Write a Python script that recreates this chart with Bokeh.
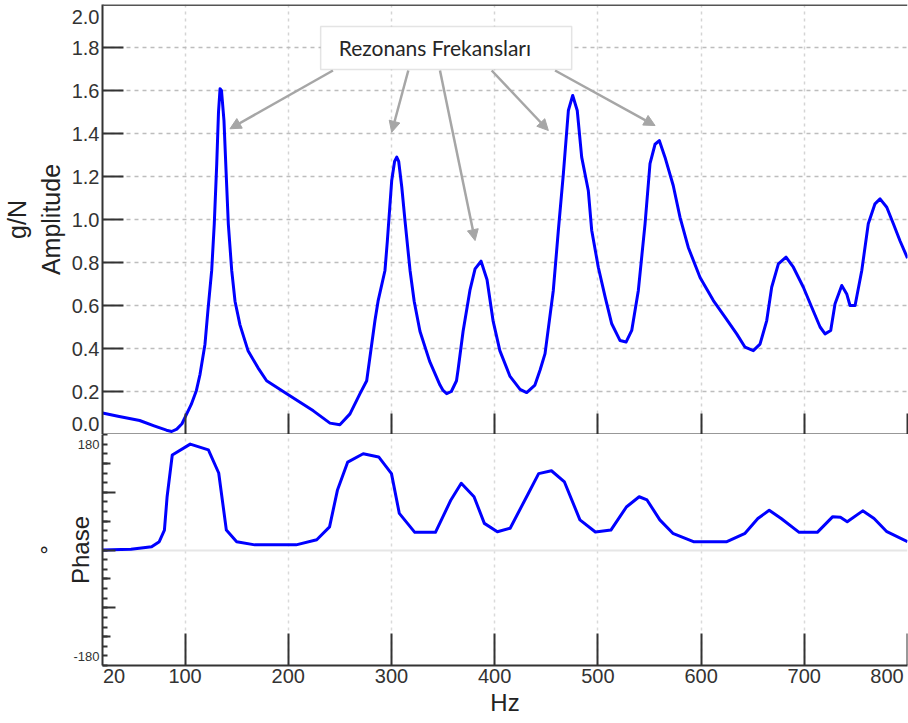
from bokeh.plotting import figure
from bokeh.layouts import column
from bokeh.models import (FixedTicker, Label, Arrow, NormalHead, BoxAnnotation, Span,
                          Range1d, ColumnDataSource, LinearAxis)
from bokeh.embed import file_html
from bokeh.resources import INLINE

# ---------------- data ----------------
FREQ_AMP = [20, 35, 56, 70, 82, 87, 92, 97, 101.6, 106, 111, 114.5, 119.3, 122.2, 125.8, 128.3,
            130.7, 132.4, 133.9, 135.3, 137.7, 139.7, 141.9, 145.2, 148.4, 153.2, 161, 170.7, 179,
            198.5, 224.3, 240.4, 250, 259.8, 269.5, 276, 284, 287, 293.7, 296, 300.2, 303, 305.1,
            307, 310, 313.1, 318, 322, 327.6, 337, 347, 350, 353.5, 358, 363, 364.5, 369.4, 376,
            381, 386.8, 392.6, 398.4, 405, 414.9, 424.6, 431, 439, 444, 448.8, 456.8, 461.7, 466.5,
            471.4, 475.6, 480, 484.3, 490.7, 494, 500.4, 507, 513.4, 521.5, 527.3, 532.8, 539.2,
            545.7, 550.5, 555.4, 559.5, 565, 573, 579.6, 587.6, 599, 611.9, 623.2, 634.5, 642.6,
            650.6, 657.1, 663.6, 668.4, 674.9, 682.3, 689.4, 699.1, 707.2, 715.3, 720.1, 725.6,
            729.8, 736.3, 741.1, 744.3, 749.2, 755.7, 762, 768.5, 773.4, 779.9, 786.3, 792.8, 800]
AMPLITUDE = [0.10, 0.085, 0.065, 0.04, 0.02, 0.014, 0.025, 0.05, 0.096, 0.14, 0.205, 0.28, 0.42,
             0.58, 0.763, 0.98, 1.26, 1.5, 1.608, 1.6, 1.46, 1.228, 0.98, 0.763, 0.62, 0.51, 0.39,
             0.31, 0.25, 0.19, 0.11, 0.053, 0.045, 0.096, 0.19, 0.25, 0.53, 0.62, 0.763, 0.90,
             1.18, 1.27, 1.29, 1.27, 1.15, 0.995, 0.763, 0.62, 0.48, 0.34, 0.23, 0.205, 0.19,
             0.2, 0.25, 0.30, 0.48, 0.67, 0.77, 0.806, 0.72, 0.53, 0.39, 0.27, 0.21, 0.195, 0.23,
             0.30, 0.376, 0.67, 0.95, 1.21, 1.507, 1.577, 1.507, 1.29, 1.135, 0.95, 0.778, 0.64,
             0.515, 0.437, 0.43, 0.484, 0.67, 0.98, 1.26, 1.35, 1.367, 1.29, 1.158, 1.01, 0.87,
             0.73, 0.623, 0.546, 0.468, 0.406, 0.39, 0.42, 0.53, 0.685, 0.794, 0.825, 0.778,
             0.685, 0.592, 0.5, 0.468, 0.484, 0.608, 0.693, 0.654, 0.6, 0.6, 0.763, 0.98, 1.073,
             1.096, 1.057, 0.98, 0.90, 0.82]

FREQ_PHASE = [20, 47.6, 67.6, 75, 80, 82.6, 87.6, 105, 122.6, 132.6, 140, 150, 167.6, 207.6,
              227.6, 240, 247.6, 257.6, 272.6, 287.6, 300, 307.6, 322.6, 342.6, 357.6, 367.6,
              380, 390, 402.6, 415, 432.6, 442.6, 455, 467.6, 482.6, 497.6, 512.6, 527.6, 540,
              547.6, 560, 572.6, 592.6, 625, 642.6, 655, 666, 677.6, 695, 712.6, 727.6, 735,
              741.6, 756.6, 767.6, 780, 800]
PHASE = [0, 1, 5, 13, 31, 83, 148, 165, 156, 120, 31, 13, 8, 8, 16, 36, 93, 137, 150, 145, 119,
         57, 27.5, 27.5, 78, 104, 83, 41.5, 28.5, 34, 88, 119, 123.5, 106, 47, 28, 31, 67, 83,
         78, 47, 26, 13, 13, 26, 49, 62, 49, 27.5, 27.5, 52, 51, 44, 61, 49, 28.5, 13]

X_RANGE = (20, 800)
AMP_RANGE = (0.0, 2.0)
PHASE_RANGE = (-180, 180)

X_TICKS = [100, 200, 300, 400, 500, 600, 700, 800]
X_LABEL_VALUES = [20, 100, 200, 300, 400, 500, 600, 700, 800]
X_TICK_LABELS = ["20", "100", "200", "300", "400", "500", "600", "700", "800"]
AMP_TICKS = [0.2, 0.4, 0.6, 0.8, 1.0, 1.2, 1.4, 1.6, 1.8]
AMP_LABEL_VALUES = [0.0, 0.2, 0.4, 0.6, 0.8, 1.0, 1.2, 1.4, 1.6, 1.8, 2.0]
AMP_TICK_LABELS = ["0.0", "0.2", "0.4", "0.6", "0.8", "1.0", "1.2", "1.4", "1.6", "1.8", "2.0"]
PHASE_LABEL_VALUES = [-180, 180]
PHASE_TICK_LABELS = ["-180", "180"]
PHASE_MAJOR = [-90, 0, 90]
PHASE_MEDIUM = [-135, -45, 45, 135]
PHASE_MINOR = list(range(-180, 181, 15))

ANNOT_TEXT = "Rezonans Frekansları"
ANNOT_BOX = dict(left=231.4, right=474.6, bottom=1.698, top=1.898)
ARROW_X0 = [243.3, 316.3, 347.0, 397.1, 458.5]
ARROW_Y0 = [1.693, 1.693, 1.693, 1.693, 1.693]
ARROW_X1 = [143.5, 300.2, 381.0, 452.0, 555.4]
ARROW_Y1 = [1.422, 1.406, 0.902, 1.414, 1.437]

# ---------------- styles / geometry ----------------
FONT = "Liberation Sans"
TXT = "#333333"
AX = "#333333"
BLUE = "#0000ff"
GRAY = "#a6a6a6"
FRAME_W, TOP_H, BOT_H = 805, 430, 231

px_x = FRAME_W / (X_RANGE[1] - X_RANGE[0])
px_amp = TOP_H / (AMP_RANGE[1] - AMP_RANGE[0])
px_ph = BOT_H / (PHASE_RANGE[1] - PHASE_RANGE[0])


def nudge(values, lo, hi, lo_px, hi_px, scale):
    """Edge tick labels are drawn pulled inside the frame by a few pixels."""
    out = []
    for v in values:
        if v == lo:
            out.append(v + lo_px / scale)
        elif v == hi:
            out.append(v - hi_px / scale)
        else:
            out.append(v)
    return out


x_range = Range1d(*X_RANGE)

# ---------------- amplitude ----------------
top = figure(frame_width=FRAME_W, frame_height=TOP_H, x_range=x_range, y_range=Range1d(*AMP_RANGE),
             output_backend="svg", toolbar_location=None, min_border_left=102,
             min_border_right=1, min_border_top=4, min_border_bottom=0,
             outline_line_color=None, background_fill_color="white")

top.xgrid.ticker = FixedTicker(ticks=X_TICKS)
top.xgrid.grid_line_color = "#d4d4d4"
top.xgrid.grid_line_dash = "3 4"
top.xgrid.grid_line_width = 1.5
top.ygrid.ticker = FixedTicker(ticks=AMP_TICKS)
top.ygrid.grid_line_color = "#bdbdbd"
top.ygrid.grid_line_dash = "4 4"
top.ygrid.grid_line_width = 1.5

top.line(FREQ_AMP, AMPLITUDE, line_color=BLUE, line_width=3, line_join="round")

top.xaxis.ticker = FixedTicker(ticks=X_TICKS, minor_ticks=[])
top.xaxis.major_tick_in = 21
top.xaxis.major_tick_out = 0
top.xaxis.major_tick_line_width = 2
top.xaxis.major_tick_line_color = AX
top.xaxis.axis_line_width = 2
top.xaxis.axis_line_color = AX
top.xaxis.major_label_text_font_size = "0px"
top.xaxis.major_label_standoff = 0
top.xaxis.major_label_overrides = {t: "" for t in X_TICKS}

amp_label_pos = nudge(AMP_LABEL_VALUES, AMP_RANGE[0], AMP_RANGE[1], 11, 12, px_amp)
top.yaxis.ticker = FixedTicker(ticks=amp_label_pos, minor_ticks=[])
top.yaxis.major_label_overrides = dict(zip(amp_label_pos, AMP_TICK_LABELS))
top.yaxis.major_tick_line_color = None
top.yaxis.major_tick_in = 0
top.yaxis.major_tick_out = 0
top.yaxis.axis_line_width = 2
top.yaxis.axis_line_color = AX
top.yaxis.major_label_text_font = FONT
top.yaxis.major_label_text_font_size = "20px"
top.yaxis.major_label_text_color = TXT
top.yaxis.major_label_standoff = 3
top.yaxis.axis_label = "g/N\nAmplitude"
top.yaxis.axis_label_text_font = FONT
top.yaxis.axis_label_text_font_size = "25px"
top.yaxis.axis_label_text_font_style = "normal"
top.yaxis.axis_label_text_color = "#222222"
top.yaxis.axis_label_standoff = 4

top.add_layout(LinearAxis(ticker=FixedTicker(ticks=AMP_TICKS, minor_ticks=[]),
                          fixed_location=X_RANGE[0], axis_line_color=None,
                          major_tick_in=21, major_tick_out=0, major_tick_line_width=2,
                          major_tick_line_color=AX, major_label_text_font_size="0px",
                          major_label_standoff=0,
                          major_label_overrides={t: "" for t in AMP_TICKS}), "left")

top.add_layout(Span(location=AMP_RANGE[1], dimension="width", line_color="#555555", line_width=3))

# annotation
top.add_layout(Arrow(end=NormalHead(size=11, fill_color=GRAY, line_color=GRAY),
                     source=ColumnDataSource(dict(x0=ARROW_X0, y0=ARROW_Y0, x1=ARROW_X1, y1=ARROW_Y1)),
                     x_start="x0", y_start="y0", x_end="x1", y_end="y1",
                     line_color=GRAY, line_width=2.5))
top.add_layout(BoxAnnotation(fill_color="white", fill_alpha=1.0, line_color=GRAY, line_width=1.5,
                             **ANNOT_BOX))
top.add_layout(Label(x=ANNOT_BOX["left"], y=(ANNOT_BOX["top"] + ANNOT_BOX["bottom"]) / 2,
                     x_offset=18, text=ANNOT_TEXT,
                     text_align="left", text_baseline="middle", text_font="Lato",
                     text_font_size="21px", text_color="#262626"))

# ---------------- phase ----------------
bot = figure(frame_width=FRAME_W, frame_height=BOT_H, x_range=x_range, y_range=Range1d(*PHASE_RANGE),
             output_backend="svg", toolbar_location=None, min_border_left=102,
             min_border_right=1, min_border_top=0, min_border_bottom=58,
             outline_line_color=None, background_fill_color="white")

bot.xgrid.ticker = FixedTicker(ticks=X_TICKS)
bot.xgrid.grid_line_color = "#dadada"
bot.xgrid.grid_line_dash = "3 4"
bot.xgrid.grid_line_width = 1.5
bot.ygrid.ticker = FixedTicker(ticks=[0])
bot.ygrid.grid_line_color = "#e6e6e6"
bot.ygrid.grid_line_width = 2

bot.line(FREQ_PHASE, PHASE, line_color=BLUE, line_width=3, line_join="round")

x_label_pos = nudge(X_LABEL_VALUES, X_RANGE[0], X_RANGE[1], 11.5, 20.5, px_x)
bot.xaxis.ticker = FixedTicker(ticks=x_label_pos, minor_ticks=[])
bot.xaxis.major_label_overrides = dict(zip(x_label_pos, X_TICK_LABELS))
bot.xaxis.major_tick_line_color = None
bot.xaxis.major_tick_in = 0
bot.xaxis.major_tick_out = 0
bot.xaxis.axis_line_width = 2
bot.xaxis.axis_line_color = AX
bot.xaxis.major_label_text_font = FONT
bot.xaxis.major_label_text_font_size = "20px"
bot.xaxis.major_label_text_color = TXT
bot.xaxis.major_label_standoff = 3
bot.xaxis.axis_label = "Hz"
bot.xaxis.axis_label_text_font = FONT
bot.xaxis.axis_label_text_font_size = "24px"
bot.xaxis.axis_label_text_font_style = "normal"
bot.xaxis.axis_label_text_color = "#222222"
bot.xaxis.axis_label_standoff = 3

bot.add_layout(LinearAxis(ticker=FixedTicker(ticks=X_TICKS, minor_ticks=[]),
                          fixed_location=PHASE_RANGE[0], axis_line_color=None,
                          major_tick_in=32, major_tick_out=0, major_tick_line_width=2,
                          major_tick_line_color=AX, major_label_text_font_size="0px",
                          major_label_standoff=0,
                          major_label_overrides={t: "" for t in X_TICKS}), "below")

ph_label_pos = nudge(PHASE_LABEL_VALUES, PHASE_RANGE[0], PHASE_RANGE[1], 9, 10, px_ph)
bot.yaxis.ticker = FixedTicker(ticks=ph_label_pos, minor_ticks=PHASE_MINOR)
bot.yaxis.major_label_overrides = dict(zip(ph_label_pos, PHASE_TICK_LABELS))
bot.yaxis.major_label_text_font = FONT
bot.yaxis.major_label_text_font_size = "13px"
bot.yaxis.major_label_text_color = TXT
bot.yaxis.major_label_standoff = 3
bot.yaxis.major_tick_line_color = None
bot.yaxis.major_tick_in = 0
bot.yaxis.major_tick_out = 0
bot.yaxis.minor_tick_in = 5
bot.yaxis.minor_tick_out = 0
bot.yaxis.minor_tick_line_width = 2
bot.yaxis.minor_tick_line_color = AX
bot.yaxis.axis_line_width = 2
bot.yaxis.axis_line_color = AX
bot.yaxis.axis_label = "°\nPhase"
bot.yaxis.axis_label_text_font = FONT
bot.yaxis.axis_label_text_font_size = "24px"
bot.yaxis.axis_label_text_font_style = "normal"
bot.yaxis.axis_label_text_color = "#222222"
bot.yaxis.axis_label_standoff = -24

for ticks, length in [(PHASE_MEDIUM, 8), (PHASE_MAJOR, 13)]:
    bot.add_layout(LinearAxis(ticker=FixedTicker(ticks=ticks, minor_ticks=[]),
                              fixed_location=X_RANGE[0], axis_line_color=None,
                              major_tick_in=length, major_tick_out=0, major_tick_line_width=2,
                              major_tick_line_color=AX, major_label_text_font_size="0px",
                              major_label_standoff=0,
                              major_label_overrides={t: "" for t in ticks}), "left")

layout = column(top, bot, spacing=0)
open("out.html", "w").write(file_html(layout, INLINE))
